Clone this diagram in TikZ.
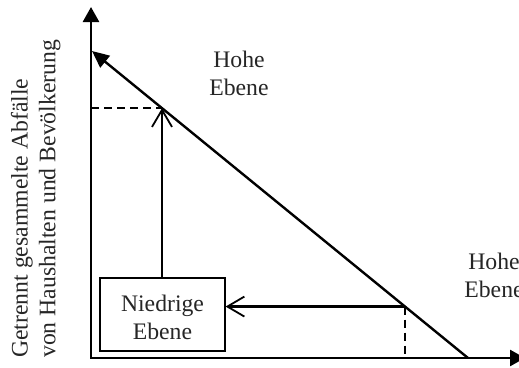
\documentclass[tikz,border=0pt]{standalone}
\usepackage{fontspec}
\setmainfont{Liberation Serif}
\usetikzlibrary{arrows.meta,calc}
\begin{document}
\begin{tikzpicture}[x=1pt,y=-1pt,
  axis/.style={line width=2.6pt,{Triangle[length=15pt,width=16pt]}-{Triangle[length=15pt,width=16pt]}},
  diag/.style={line width=2.4pt,-{Triangle[length=17pt,width=15pt]}},
  flow/.style={line width=2.3pt,-{Straight Barb[length=17pt,width=20pt,line width=1.8pt]}},
  guide/.style={line width=1.6pt,dash pattern=on 8pt off 5pt},
  lbl/.style={font=\fontsize{23.7}{27.8}\selectfont,align=center,inner sep=0pt,text=black!85},
  levelbox/.style={lbl,draw=black,line width=1.2pt,minimum width=125pt,minimum height=73pt}]
\useasboundingbox (0,0) rectangle (519,367);
\coordinate (O) at (91,358);
\coordinate (Ytop) at (91,7);
\coordinate (Xend) at (525,358);
\coordinate (D1) at (92,51);
\coordinate (D2) at (468,358);
\coordinate (P1) at ($(D2)!{(468-162)/376}!(D1)$);
\coordinate (P2) at ($(D2)!{(468-405)/376}!(D1)$);

\node[lbl,rotate=90,align=left,anchor=north west] (ylab) at (10.8,358)
  {Getrennt gesammelte Abfälle\\von Haushalten und Bevölkerung};
\node[lbl] (hoch1) at (239,73) {Hohe\\Ebene};
\node[lbl] (hoch2) at (494,275) {Hohe\\Ebene};
\node[levelbox] (nb) at (162.5,314.5) {\rule{0pt}{22.2pt}Niedrige\\Ebene};

\draw[axis] (Ytop) -- (O) -- (Xend);
\draw[diag] (D2) -- (D1);
\draw[guide] (O |- P1) -- (P1);
\draw[guide] (P2) -- (P2 |- O);
\draw[flow] (P1 |- nb.north) -- (P1);
\draw[flow] (P2) -- (P2 -| nb.east);
\end{tikzpicture}
\end{document}
